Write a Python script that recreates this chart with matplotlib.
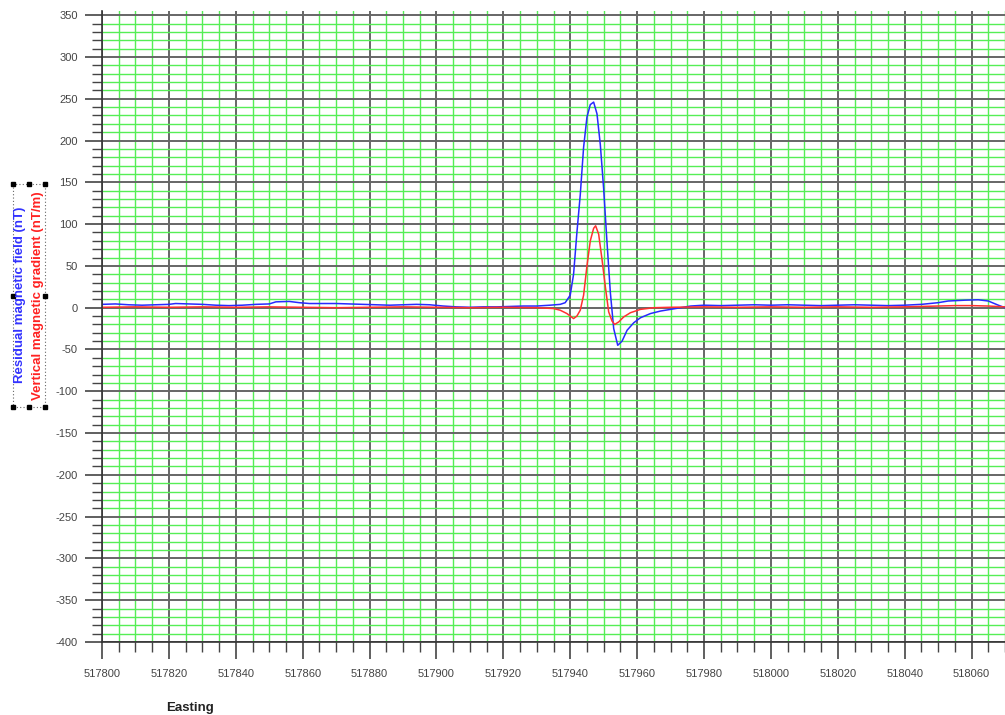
import matplotlib

matplotlib.use("Agg")
import matplotlib.pyplot as plt
from matplotlib.patches import Rectangle
from matplotlib.ticker import MultipleLocator

plt.rcParams["axes.unicode_minus"] = False

# Residual magnetic field profile (nT) along easting
resid_easting = [
    517800, 517804, 517808, 517812, 517816, 517820, 517822, 517826, 517830,
    517834, 517838, 517842, 517846, 517850, 517852, 517856, 517859, 517862,
    517866, 517870, 517874, 517878, 517882, 517886, 517890, 517894, 517898,
    517902, 517906, 517910, 517914, 517918, 517922, 517926, 517930, 517934,
    517937, 517938.5, 517940, 517941, 517942, 517943, 517944, 517945, 517946,
    517947, 517948, 517949, 517950, 517951, 517952, 517953, 517954.2,
    517955.5, 517957, 517959, 517961, 517964, 517967, 517970, 517973,
    517976, 517980, 517985, 517990, 517995, 518000, 518005, 518010, 518015,
    518020, 518025, 518030, 518035, 518040, 518045, 518050, 518053, 518058,
    518062, 518065, 518068, 518070,
]
resid_field = [
    4, 4.5, 3.5, 3, 3.5, 4, 5, 4.5, 4,
    3, 2.5, 3, 4, 4.5, 7, 7.5, 6, 5,
    5, 5, 4.5, 4, 3.5, 3, 3.5, 4, 3.5,
    2, 1, 0.5, 1, 1, 1.5, 2, 2, 3,
    4, 6, 15, 40, 90, 135, 192, 228, 243,
    246, 232, 195, 142, 78, 18, -25, -45,
    -40, -27, -18, -12, -7, -4, -2, 0,
    2, 3, 2.5, 3, 3.5, 3, 3.5, 3, 2.5,
    3, 3.5, 3, 2.5, 3, 4, 6, 8, 9,
    9.5, 8, 3, 0,
]

# Vertical magnetic gradient profile (nT/m) along easting
grad_easting = [
    517800, 517810, 517820, 517830, 517840, 517850, 517860, 517870, 517880,
    517890, 517900, 517910, 517920, 517930, 517935, 517937, 517939, 517941,
    517942, 517943, 517944, 517945, 517946, 517947, 517947.6, 517948.5,
    517949.5, 517950.5, 517951.5, 517952.5, 517953.3, 517954.5, 517956,
    517958, 517961, 517965, 517970, 517980, 517990, 518000, 518010, 518020,
    518030, 518040, 518050, 518055, 518060, 518065, 518070,
]
grad_field = [
    0.5, 1, 0.5, 1, 0.5, 1, 0.5, 0, 0.5,
    1, 0.5, 0, 0.5, 0, -1, -3, -7, -13,
    -10, -3, 15, 50, 80, 95, 98, 88,
    58, 25, -5, -16, -20, -17, -11,
    -6, -2, 0, 0.5, 1, 0.5, 1, 0.5, 1,
    0.5, 1, 2, 2.5, 2.5, 2, 1,
]

x_limits = (517800, 518070)
y_limits = (-400, 355)

fig = plt.figure(figsize=(10.05, 7.15), dpi=100)
ax = fig.add_axes([0.1015, 0.1021, 0.8985, 0.8825])

# grid: green every 5 m / 10 nT, dark every 20 m / 50 nT
ax.xaxis.set_major_locator(MultipleLocator(20))
ax.xaxis.set_minor_locator(MultipleLocator(5))
ax.yaxis.set_major_locator(MultipleLocator(50))
ax.yaxis.set_minor_locator(MultipleLocator(10))
ax.grid(True, which="minor", color="#55ee55", linewidth=1.0)
ax.grid(True, which="major", color="#666666", linewidth=1.4)
ax.set_axisbelow(True)

ax.plot(resid_easting, resid_field, color="#2828ff", linewidth=1.1)
ax.plot(grad_easting, grad_field, color="#ff3030", linewidth=1.1)

ax.set_xlim(*x_limits)
ax.set_ylim(*y_limits)

for side in ("top", "right"):
    ax.spines[side].set_visible(False)
for side in ("left", "bottom"):
    ax.spines[side].set_color("#333333")
    ax.spines[side].set_linewidth(1.2)

ax.tick_params(which="major", direction="out", length=12.5, width=1.2,
               color="#444444", labelcolor="#444444", labelsize=8)
ax.tick_params(which="minor", direction="out", length=7, width=1.0,
               color="#444444")
ax.tick_params(axis="x", which="major", pad=7)
ax.tick_params(axis="y", which="major", pad=5)
for label in ax.get_xticklabels() + ax.get_yticklabels():
    label.set_family("Liberation Sans")

fig.text(0.189, 0.0098, "Easting", ha="center", va="center", fontsize=9.5,
         fontweight="bold", family="Liberation Sans", color="#222222")

# two-colour y label inside a selection frame
fig.text(0.020, 0.587, "Residual magnetic field (nT)", rotation=90,
         ha="center", va="center", fontsize=9.5, fontweight="bold",
         family="Liberation Sans", color="#3333ff")
fig.text(0.0375, 0.586, "Vertical magnetic gradient (nT/m)", rotation=90,
         ha="center", va="center", fontsize=9.5, fontweight="bold",
         family="Liberation Sans", color="#ff2222")

x0, x1 = 13 / 1005, 45 / 1005
y0, y1 = 1 - 407 / 715, 1 - 184 / 715
fig.patches.append(Rectangle((x0, y0), x1 - x0, y1 - y0, fill=False,
                             edgecolor="#666666", linewidth=0.8,
                             linestyle=(0, (1, 2)),
                             transform=fig.transFigure))
xm, ym = (x0 + x1) / 2, (y0 + y1) / 2
handles = [(x0, y0), (xm, y0), (x1, y0), (x0, ym), (x1, ym),
           (x0, y1), (xm, y1), (x1, y1)]
fig.lines.append(plt.Line2D([h[0] for h in handles], [h[1] for h in handles],
                            linestyle="none", marker="s", markersize=3.5,
                            color="black", transform=fig.transFigure))

fig.savefig("out.png", dpi=100)
